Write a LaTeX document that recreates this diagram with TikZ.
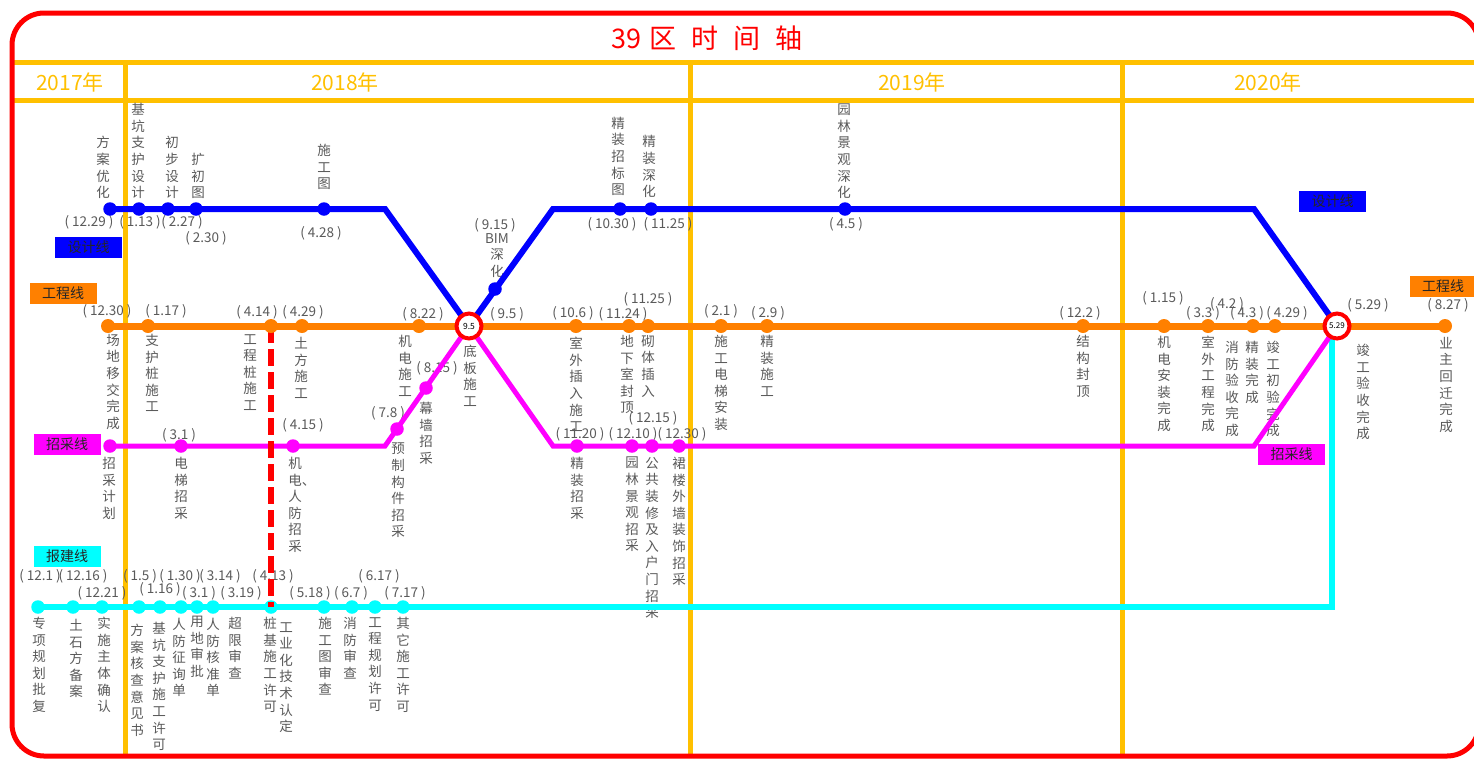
\documentclass[tikz,border=0pt]{standalone}
\usepackage{fontspec}
\setmainfont{Noto Sans CJK SC}
\definecolor{yel}{RGB}{255,192,0}
\definecolor{org}{RGB}{255,128,0}
\definecolor{mag}{RGB}{255,0,255}
\definecolor{cyn}{RGB}{0,255,255}
\definecolor{blu}{RGB}{0,0,255}
\definecolor{lab}{RGB}{90,90,90}
\begin{document}
\begin{tikzpicture}[x=1pt,y=-1pt,
  vl/.style={text=lab,font=\fontsize{13.5}{16.6}\selectfont,align=center,inner sep=0pt},
  up/.style={vl,anchor=south},
  dn/.style={vl,anchor=north},
  dt/.style={text=lab,font=\fontsize{13.5}{14}\selectfont,inner sep=0pt},
  dotst/.style={circle,inner sep=0pt,minimum size=13.5pt},
  bd/.style={dotst,fill=blu},
  od/.style={dotst,fill=org,minimum size=14pt},
  md/.style={dotst,fill=mag},
  cd/.style={dotst,fill=cyn},
  hub/.style={circle,draw=red,line width=4pt,fill=white,minimum size=25pt,inner sep=0pt,font=\fontsize{8.5}{9}\selectfont},
  tag/.style={minimum width=67pt,minimum height=21pt,inner sep=0pt,font=\fontsize{14}{14}\selectfont,text=black!85},
  gridl/.style={yel,line width=5pt},
  yr/.style={text=yel,font=\fontsize{21}{21}\selectfont,inner sep=0pt},
  bl/.style={blu,line width=6pt},
  ol/.style={org,line width=7pt},
  ml/.style={mag,line width=5pt},
  cl/.style={cyn,line width=6pt}
]
\useasboundingbox (0,0) rectangle (1474,758);
\clip (0,0) rectangle (1474,758);
\fill[white] (0,0) rectangle (1474,758);

% grid
\draw[gridl] (12,62) -- (1474,62);
\draw[gridl] (12,100) -- (1474,100);
\draw[gridl] (125,62) -- (125,758);
\draw[gridl] (690,62) -- (690,758);
\draw[gridl] (1122,62) -- (1122,758);
\draw[red,line width=5pt,rounded corners=32pt] (12,13) rectangle (1479,756);

% title and years
\node[text=red,font=\fontsize{27}{27}\selectfont,inner sep=0pt] (title) at (707,38) {39\hspace{9pt}区\hspace{15pt}时\hspace{15pt}间\hspace{15pt}轴};
\node[yr] (y17) at (70,82) {2017年};
\node[yr] (y18) at (345,82) {2018年};
\node[yr] (y19) at (912,82) {2019年};
\node[yr] (y20) at (1268,82) {2020年};

% tags
\node[tag,fill=blu] (tagB1) at (88.5,247.5) {设计线};
\node[tag,fill=blu] (tagB2) at (1332.5,201.5) {设计线};
\node[tag,fill=org] (tagO1) at (63,293.5) {工程线};
\node[tag,fill=org] (tagO2) at (1443,286.5) {工程线};
\node[tag,fill=mag] (tagM1) at (67,444.5) {招采线};
\node[tag,fill=mag] (tagM2) at (1291.5,454) {招采线};
\node[tag,fill=cyn] (tagC1) at (67,556) {报建线};

% design line labels
\node[up] (lb1) at (103,199) {方\\案\\优\\化};
\node[up] (lb2) at (138,199) {基\\坑\\支\\护\\设\\计};
\node[up] (lb3) at (172,199) {初\\步\\设\\计};
\node[up] (lb4) at (198,199) {扩\\初\\图};
\node[up] (lb5) at (324,190) {施\\工\\图};
\node[dn] (lb6) at (497,233) {BIM\\深\\化};
\node[up] (lb7) at (618,196) {精\\装\\招\\标\\图};
\node[up] (lb8) at (649,198) {精\\装\\深\\化};
\node[up] (lb9) at (844,199) {园\\林\\景\\观\\深\\化};
\node[dt] (db1) at (89,222) {( 12.29 )};
\node[dt] (db2) at (140,222) {( 1.13 )};
\node[dt] (db3) at (182,222) {( 2.27 )};
\node[dt] (db4) at (206,238) {( 2.30 )};
\node[dt] (db5) at (321,233) {( 4.28 )};
\node[dt] (db6) at (495,225) {( 9.15 )};
\node[dt] (db7) at (612,224) {( 10.30 )};
\node[dt] (db8) at (668,224) {( 11.25 )};
\node[dt] (db9) at (846,224) {( 4.5 )};

% engineering line labels
\node[dt] (do1) at (107,311) {( 12.30 )};
\node[dt] (do2) at (166,311) {( 1.17 )};
\node[dt] (do3) at (257,312) {( 4.14 )};
\node[dt] (do4) at (303,312) {( 4.29 )};
\node[dt] (do5) at (423,314) {( 8.22 )};
\node[dt] (do6) at (507,314) {( 9.5 )};
\node[dt] (do7) at (573,313) {( 10.6 )};
\node[dt] (do8) at (623,314) {( 11.24 )};
\node[dt] (do9) at (648,299) {( 11.25 )};
\node[dt] (do10) at (721,311) {( 2.1 )};
\node[dt] (do11) at (768,313) {( 2.9 )};
\node[dt] (do12) at (1080,313) {( 12.2 )};
\node[dt] (do13) at (1163,298) {( 1.15 )};
\node[dt] (do14) at (1203,313) {( 3.3 )};
\node[dt] (do15) at (1227,304) {( 4.2 )};
\node[dt] (do16) at (1247,313) {( 4.3 )};
\node[dt] (do17) at (1287,313) {( 4.29 )};
\node[dt] (do18) at (1368,305) {( 5.29 )};
\node[dt] (do19) at (1448,305) {( 8.27 )};
\node[dn] (lo1) at (113,334) {场\\地\\移\\交\\完\\成};
\node[dn] (lo2) at (152,334) {支\\护\\桩\\施\\工};
\node[dn] (lo3) at (250,334) {工\\程\\桩\\施\\工};
\node[dn] (lo4) at (301,337) {土\\方\\施\\工};
\node[dn] (lo5) at (405,335) {机\\电\\施\\工};
\node[dn] (lo6) at (470,345) {底\\板\\施\\工};
\node[dn] (lo7) at (576,337) {室\\外\\插\\入\\施\\工};
\node[dn] (lo8) at (627,335) {地\\下\\室\\封\\顶};
\node[dn] (lo9) at (648,335) {砌\\体\\插\\入};
\node[dn] (lo10) at (721,335) {施\\工\\电\\梯\\安\\装};
\node[dn] (lo11) at (767,335) {精\\装\\施\\工};
\node[dn] (lo12) at (1083,335) {结\\构\\封\\顶};
\node[dn] (lo13) at (1164,336) {机\\电\\安\\装\\完\\成};
\node[dn] (lo14) at (1208,336) {室\\外\\工\\程\\完\\成};
\node[dn] (lo15) at (1232,341) {消\\防\\验\\收\\完\\成};
\node[dn] (lo16) at (1252,341) {精\\装\\完\\成};
\node[dn] (lo17) at (1273,341) {竣\\工\\初\\验\\完\\成};
\node[dn] (lo18) at (1363,344) {竣\\工\\验\\收\\完\\成};
\node[dn] (lo19) at (1446,337) {业\\主\\回\\迁\\完\\成};

% procurement labels
\node[dt] (dm1) at (179,435) {( 3.1 )};
\node[dt] (dm2) at (303,425) {( 4.15 )};
\node[dt] (dm3) at (388,413) {( 7.8 )};
\node[dt] (dm4) at (437,368) {( 8.15 )};
\node[dt] (dm5) at (580,434) {( 11.20 )};
\node[dt] (dm6) at (633,434) {( 12.10 )};
\node[dt] (dm7) at (653,418) {( 12.15 )};
\node[dt] (dm8) at (682,434) {( 12.30 )};
\node[dn] (lm1) at (109,457) {招\\采\\计\\划};
\node[dn] (lm2) at (181,457) {电\\梯\\招\\采};
\node[dn] (lm3) at (295,457) {机\\电\rlap{、}\\人\\防\\招\\采};
\node[dn] (lm4) at (398,443) {预\\制\\构\\件\\招\\采};
\node[dn] (lm5) at (426,402) {幕\\墙\\招\\采};
\node[dn] (lm6) at (577,457) {精\\装\\招\\采};
\node[dn] (lm7) at (632,457) {园\\林\\景\\观\\招\\采};
\node[dn] (lm8) at (652,457) {公\\共\\装\\修\\及\\入\\户\\门\\招\\采};
\node[dn] (lm9) at (679,457) {裙\\楼\\外\\墙\\装\\饰\\招\\采};

% report line labels
\node[dt] (dc1) at (40,576) {( 12.1 )};
\node[dt] (dc2) at (83,576) {( 12.16 )};
\node[dt] (dc3) at (102,593) {( 12.21 )};
\node[dt] (dc4) at (140,576) {( 1.5 )};
\node[dt] (dc5) at (160,589) {( 1.16 )};
\node[dt] (dc6) at (180,576) {( 1.30 )};
\node[dt] (dc7) at (220,576) {( 3.14 )};
\node[dt] (dc8) at (199,593) {( 3.1 )};
\node[dt] (dc9) at (241,593) {( 3.19 )};
\node[dt] (dc10) at (273,576) {( 4.13 )};
\node[dt] (dc11) at (310,593) {( 5.18 )};
\node[dt] (dc12) at (351,593) {( 6.7 )};
\node[dt] (dc13) at (379,576) {( 6.17 )};
\node[dt] (dc14) at (405,593) {( 7.17 )};
\node[dn] (lc1) at (39,617) {专\\项\\规\\划\\批\\复};
\node[dn] (lc2) at (76,619) {土\\石\\方\\备\\案};
\node[dn] (lc3) at (104,617) {实\\施\\主\\体\\确\\认};
\node[dn] (lc4) at (137,624) {方\\案\\核\\查\\意\\见\\书};
\node[dn] (lc5) at (159,622) {基\\坑\\支\\护\\施\\工\\许\\可};
\node[dn] (lc6) at (179,618) {人\\防\\征\\询\\单};
\node[dn] (lc7) at (197,616) {用\\地\\审\\批};
\node[dn] (lc8) at (213,618) {人\\防\\核\\准\\单};
\node[dn] (lc9) at (235,617) {超\\限\\审\\查};
\node[dn] (lc10) at (270,617) {桩\\基\\施\\工\\许\\可};
\node[dn] (lc11) at (286,622) {工\\业\\化\\技\\术\\认\\定};
\node[dn] (lc12) at (325,617) {施\\工\\图\\审\\查};
\node[dn] (lc13) at (350,617) {消\\防\\审\\查};
\node[dn] (lc14) at (375,617) {工\\程\\规\\划\\许\\可};
\node[dn] (lc15) at (403,617) {其\\它\\施\\工\\许\\可};

% coordinates
\coordinate (H95) at (469,326);
\coordinate (H529) at (1337,326);
\coordinate (B1) at (110,209); \coordinate (B2) at (139,209); \coordinate (B3) at (168,209);
\coordinate (B4) at (196,209); \coordinate (B5) at (324,209); \coordinate (BK1) at (385,209);
\coordinate (B6) at (495,289); \coordinate (BK2) at (553,209); \coordinate (B7) at (620,209);
\coordinate (B8) at (651,209); \coordinate (B9) at (845,209); \coordinate (BK3) at (1254,209);
\coordinate (O1) at (108,326); \coordinate (O2) at (148,326); \coordinate (O3) at (271,326);
\coordinate (O4) at (302,326); \coordinate (O5) at (419,326); \coordinate (O6) at (576,326);
\coordinate (O7) at (629,326); \coordinate (O8) at (648,326); \coordinate (O9) at (721,326);
\coordinate (O10) at (767,326); \coordinate (O11) at (1083,326); \coordinate (O12) at (1164,326);
\coordinate (O13) at (1208,326); \coordinate (O14) at (1253,326); \coordinate (O15) at (1275,326);
\coordinate (O16) at (1445,326);
\coordinate (M1) at (110,446); \coordinate (M2) at (181,446); \coordinate (M3) at (293,446);
\coordinate (MK1) at (385,446); \coordinate (M4) at (397,429); \coordinate (M5) at (426,388);
\coordinate (MK2) at (553,446); \coordinate (M6) at (577,446); \coordinate (M7) at (632,446);
\coordinate (M8) at (652,446); \coordinate (M9) at (679,446); \coordinate (MK3) at (1254,446);
\coordinate (C1) at (38,607); \coordinate (C2) at (73,607); \coordinate (C3) at (102,607);
\coordinate (C4) at (139,607); \coordinate (C5) at (160,607); \coordinate (C6) at (181,607);
\coordinate (C7) at (197,607); \coordinate (C8) at (213,607); \coordinate (C9) at (271,607);
\coordinate (C10) at (324,607); \coordinate (C11) at (352,607); \coordinate (C12) at (375,607);
\coordinate (C13) at (403,607); \coordinate (CK) at (1332,607); \coordinate (CT) at (1332,332);

% lines
\draw[cl] (C1) -- (CK) -- (CT);
\draw[ol] (O1) -- (O16);
\draw[ml] (M1) -- (MK1) -- (H95) -- (MK2) -- (MK3) -- (H529);
\draw[bl] (B1) -- (BK1) -- (H95) -- (BK2) -- (BK3) -- (H529);

% dots
\foreach \c in {C1,C2,C3,C4,C5,C6,C7,C8,C9,C10,C11,C12,C13}
  \node[cd] (d\c) at (\c) {};
\draw[red,line width=6pt,dash pattern=on 17pt off 6pt] (O3) -- (C9);
\foreach \c in {O1,O2,O3,O4,O5,O6,O7,O8,O9,O10,O11,O12,O13,O14,O15,O16}
  \node[od] (d\c) at (\c) {};
\foreach \c in {M1,M2,M3,M4,M5,M6,M7,M8,M9}
  \node[md] (d\c) at (\c) {};
\foreach \c in {B1,B2,B3,B4,B5,B6,B7,B8,B9}
  \node[bd] (d\c) at (\c) {};

% hubs
\node[hub] (h95) at (H95) {9.5};
\node[hub,font=\fontsize{8}{8}\selectfont] (h529) at (H529) {5.29};
\end{tikzpicture}
\end{document}
